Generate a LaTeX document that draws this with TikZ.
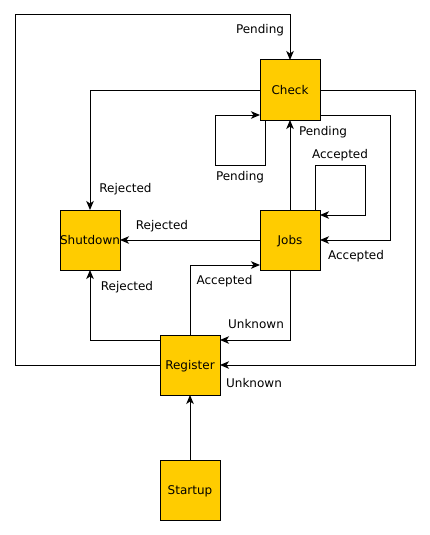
\documentclass[tikz,border=0pt]{standalone}
\usepackage{fontspec}
\setmainfont{DejaVu Sans}
\usetikzlibrary{arrows.meta,calc}
\definecolor{boxfill}{RGB}{255,204,0}
\tikzset{
  state/.style={draw=black,fill=boxfill,line width=1pt,minimum width=60pt,minimum height=60pt,inner sep=0pt,outer sep=0pt,text height=11pt,text depth=2.4pt,font=\fontsize{12}{14}\selectfont},
  lbl/.style={inner sep=0pt,font=\fontsize{12}{14}\selectfont},
  conn/.style={line width=1pt,-{Stealth[length=9pt,width=7.5pt,inset=2.5pt]}}
}
\begin{document}
\begin{tikzpicture}[x=1pt,y=-1pt]
\useasboundingbox (0,0) rectangle (430,535);
\node[state] (chk) at (290,90) {Check};
\node[state] (jobs) at (290,240) {Jobs};
\node[state] (shut) at (90,240) {Shutdown};
\node[state] (reg) at (190,365) {Register};
\node[state] (start) at (190,490) {Startup};
\coordinate (c1) at (15,15);
\coordinate (c3) at (415,365);
\coordinate (c4) at (215,165);
\coordinate (c6) at (390,115);
\coordinate (c7) at (365,165);
% edges
\draw[conn] (reg.west) -| (c1) -| (chk.north);
\draw[conn] (chk.west) -| (shut.north);
\draw[conn] (chk.east) -| (c3) -- (reg.east);
\draw[conn] ($(chk.south west)+(5,0)$) |- (c4) |- ($(chk.west)+(0,25)$);
\draw[conn] (jobs.north) -- (chk.south);
\draw[conn] ($(chk.east)+(0,25)$) -| (c6) |- (jobs.east);
\draw[conn] ($(jobs.north east)+(-5,0)$) |- (c7) |- ($(jobs.east)+(0,-25)$);
\draw[conn] (jobs.west) -- (shut.east);
\draw[conn] (reg.north) |- ($(jobs.west)+(0,25)$);
\draw[conn] ($(reg.west)+(0,-25)$) -| (shut.south);
\draw[conn] (jobs.south) |- ($(reg.east)+(0,-25)$);
\draw[conn] (start.north) -- (reg.south);
% labels
\node[lbl] (l1) at (260,30) {Pending};
\node[lbl] (l2) at (125.5,189) {Rejected};
\node[lbl] (l3) at (254,383) {Unknown};
\node[lbl] (l4) at (240,177) {Pending};
\node[lbl] (l5) at (323,132) {Pending};
\node[lbl] (l6) at (356,256) {Accepted};
\node[lbl] (l7) at (340,155) {Accepted};
\node[lbl] (l8) at (162,226) {Rejected};
\node[lbl] (l9) at (224.5,281) {Accepted};
\node[lbl] (l10) at (127,287) {Rejected};
\node[lbl] (l11) at (256,324) {Unknown};
\end{tikzpicture}
\end{document}
